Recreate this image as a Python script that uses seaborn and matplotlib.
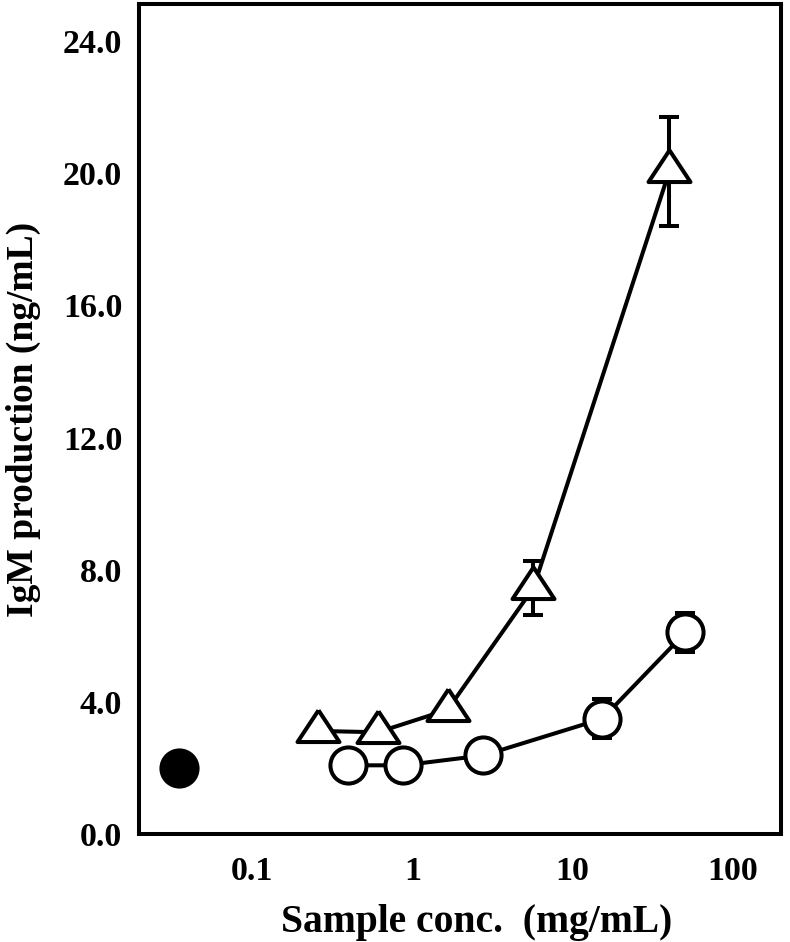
import matplotlib
matplotlib.use("Agg")
import matplotlib.pyplot as plt
import seaborn as sns
import pandas as pd

# ---- data ----
ctrl_x = [0.035]
ctrl_y = [2.0]

tri_x = [0.26, 0.61, 1.66, 5.7, 40.0]
tri_y = [3.12, 3.08, 3.76, 7.45, 20.05]
tri_err = [0.0, 0.0, 0.0, 0.82, 1.65]

cir_x = [0.395, 0.88, 2.78, 15.3, 50.5]
cir_y = [2.08, 2.08, 2.38, 3.49, 6.1]
cir_err = [0.0, 0.0, 0.0, 0.59, 0.58]

x_ticks = [0.1, 1, 10, 100]
x_tick_labels = ["0.1", "1", "10", "100"]
y_ticks = [0, 4, 8, 12, 16, 20, 24]
y_tick_labels = ["0.0", "4.0", "8.0", "12.0", "16.0", "20.0", "24.0"]

sns.set_theme(style="white")
plt.rcParams["font.family"] = ["Liberation Serif", "DejaVu Serif"]
plt.rcParams["font.weight"] = "bold"
plt.rcParams["text.color"] = "black"
plt.rcParams["axes.labelcolor"] = "black"
plt.rcParams["xtick.color"] = "black"
plt.rcParams["ytick.color"] = "black"

fig = plt.figure(figsize=(7.9, 9.42), dpi=100)
ax = fig.add_axes([0.176, 0.1146, 0.8126, 0.8812])

tri_df = pd.DataFrame({"x": tri_x, "y": tri_y, "err": tri_err})
cir_df = pd.DataFrame({"x": cir_x, "y": cir_y, "err": cir_err})

lw = 2.9
# triangle marker with centroid at origin
tri_marker = [(0, 20.7), (-20.5, -10.3), (20.5, -10.3), (0, 20.7)]

# error bars (below markers)
for df in (tri_df, cir_df):
    d = df[df["err"] > 0]
    ax.errorbar(d["x"], d["y"], yerr=d["err"], fmt="none", ecolor="black",
                elinewidth=lw, capsize=7.2, capthick=lw, zorder=1)

sns.lineplot(data=tri_df, x="x", y="y", ax=ax, color="black", linewidth=lw,
             marker=tri_marker, markersize=30.5, markerfacecolor="white",
             markeredgecolor="black", markeredgewidth=lw, zorder=3,
             estimator=None, sort=False)
sns.lineplot(data=cir_df, x="x", y="y", ax=ax, color="black", linewidth=lw,
             marker="o", markersize=26, markerfacecolor="white",
             markeredgecolor="black", markeredgewidth=lw, zorder=3,
             estimator=None, sort=False)
sns.scatterplot(x=ctrl_x, y=ctrl_y, ax=ax, color="black", s=26**2,
                edgecolor="black", linewidth=lw, zorder=4)

ax.set_xscale("log")
ax.set_xlim(0.0198, 199)
ax.set_ylim(0, 25.12)
ax.set_xticks(x_ticks)
ax.set_xticklabels(x_tick_labels)
ax.set_yticks(y_ticks)
ax.set_yticklabels(y_tick_labels)
ax.xaxis.set_minor_locator(matplotlib.ticker.NullLocator())

for s in ax.spines.values():
    s.set_linewidth(lw)
    s.set_color("black")
    s.set_visible(True)

ax.tick_params(axis="both", direction="in", length=16, width=lw, colors="black",
               labelsize=24.5, top=False, right=False)
ax.tick_params(axis="y", pad=12)
ax.tick_params(axis="x", pad=16)
for lab in ax.get_xticklabels() + ax.get_yticklabels():
    lab.set_fontweight("bold")

ax.set_xlabel("Sample conc.  (mg/mL)", fontsize=28.5, fontweight="bold", color="black")
ax.xaxis.set_label_coords(0.526, -0.084)
ax.set_ylabel("IgM production (ng/mL)", fontsize=27, fontweight="bold", color="black",
              labelpad=16)
ax.grid(False)

fig.savefig("out.png", dpi=100, facecolor="white")
